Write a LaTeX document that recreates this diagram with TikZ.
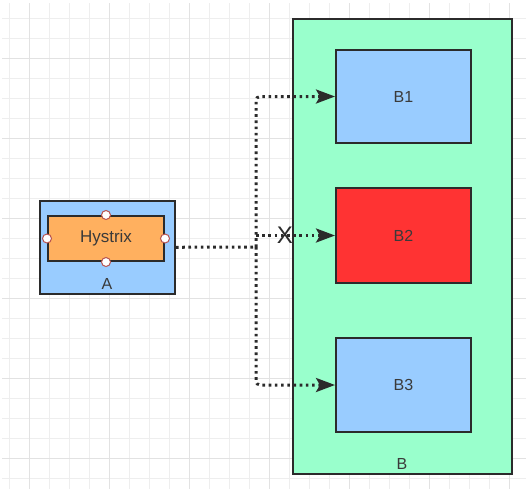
\documentclass[tikz,border=0pt]{standalone}
\usepackage{fontspec}
\setmainfont{Liberation Sans}
\usetikzlibrary{arrows.meta}
\definecolor{gridminor}{HTML}{EEEEEE}
\definecolor{gridmajor}{HTML}{E2E2E2}
\definecolor{boxline}{HTML}{2B2B2B}
\definecolor{labeltext}{HTML}{3A3A3A}
\definecolor{portred}{HTML}{B85450}
\definecolor{bluefill}{HTML}{99CCFF}
\definecolor{orangefill}{HTML}{FFB05F}
\definecolor{mintfill}{HTML}{99FFCC}
\definecolor{redfill}{HTML}{FF3333}
\pgfkeys{tikz/mybox/.style={draw=boxline,line width=2pt,text=labeltext,font=\fontsize{16}{18}\selectfont,inner sep=0pt}}
\pgfkeys{tikz/myport/.style={circle,draw=portred,fill=white,line width=1pt,minimum size=9pt,inner sep=0pt}}
\pgfkeys{tikz/mylink/.style={draw=boxline,line width=3pt,dash pattern=on 2.6pt off 3.6pt}}
\pgfkeys{tikz/mytip/.style={-{Stealth[length=19pt,width=14pt,inset=4pt]}}}
\newcommand*\myport[1]{\node[myport] (hys-#1) at (hys.#1) {};}

\begin{document}
\begin{tikzpicture}[x=1pt,y=-1pt]
\useasboundingbox (0,0) rectangle (528,491);

% grid
\foreach \x in {9,29,...,520} {
  \draw[gridminor,line width=1pt] (\x,3) -- (\x,489);
}
\foreach \y in {18,38,...,480} {
  \draw[gridminor,line width=1pt] (2,\y) -- (526,\y);
}
\foreach \x in {29,109,...,520} {
  \draw[gridmajor,line width=1pt] (\x,3) -- (\x,489);
}
\foreach \y in {58,138,...,480} {
  \draw[gridmajor,line width=1pt] (2,\y) -- (526,\y);
}

% service B
\node[mybox,fill=mintfill,minimum width=219pt,minimum height=455pt] (B) at (402.5,246.5) {};
\node[text=labeltext,font=\fontsize{16}{18}\selectfont] (blabel) at (402,464) {B};
\node[mybox,fill=bluefill,minimum width=135pt,minimum height=93pt] (B1) at (403.5,96.5) {B1};
\node[mybox,fill=redfill,minimum width=135pt,minimum height=95pt] (B2) at (403.5,235.5) {B2};
\node[mybox,fill=bluefill,minimum width=135pt,minimum height=94pt] (B3) at (403.5,385) {B3};

% service A
\node[mybox,fill=bluefill,minimum width=135pt,minimum height=93pt] (A) at (107.5,247.5) {};
\node[text=labeltext,font=\fontsize{16}{18}\selectfont] (alabel) at (107,284) {A};
\node[mybox,fill=orangefill,minimum width=116pt,minimum height=45pt,font=\fontsize{17}{19}\selectfont] (hys) at (106,238.5) {Hystrix};
\foreach \side in {north,south,east,west} {
  \myport{\side}
}

% calls
\coordinate (split) at (256,247);
\draw[mylink] (A) -- (split);
\draw[mylink,mytip,rounded corners=4pt] (split) |- (B1);
\draw[mylink,mytip,rounded corners=4pt] (split) |- (B3);
\draw[mylink,mytip] (split |- B2) -- (B2);
\node[text=boxline,font=\fontsize{24}{26}\selectfont,inner sep=0pt] (cut) at (285,235) {X};

\end{tikzpicture}
\end{document}
